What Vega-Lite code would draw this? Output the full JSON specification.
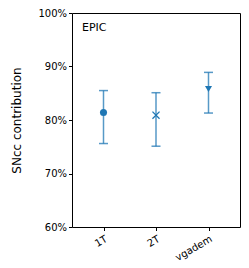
{
  "$schema": "https://vega.github.io/schema/vega-lite/v6.json",
  "autosize": {"type": "none"},
  "padding": {"left": 72, "top": 13, "right": 9, "bottom": 41},
  "width": 168,
  "height": 214,
  "config": {
    "view": {"stroke": "#000000", "strokeWidth": 1},
    "font": "DejaVu Sans"
  },
  "data": {
    "values": [
      {"model": "1T", "value": 0.814, "lo": 0.756, "hi": 0.855},
      {"model": "2T", "value": 0.809, "lo": 0.751, "hi": 0.851},
      {"model": "vgadem", "value": 0.858, "lo": 0.813, "hi": 0.889}
    ]
  },
  "encoding": {
    "x": {
      "field": "model", "type": "nominal", "sort": null,
      "scale": {"type": "point", "padding": 0.6},
      "axis": {"title": null, "labelAngle": -30, "labelAlign": "right", "labelBaseline": "top",
               "labelFontSize": 10, "labelColor": "#000", "tickColor": "#000", "domain": false,
               "tickSize": 3.5, "labelPadding": 3}
    }
  },
  "layer": [
    {
      "mark": {"type": "rule", "color": "#1f77b4", "opacity": 0.75, "strokeWidth": 1.5},
      "encoding": {
        "y": {"field": "lo", "type": "quantitative",
              "scale": {"domain": [0.6, 1.0], "nice": false, "zero": false},
              "axis": {"title": "SNcc contribution", "titleFontSize": 12, "titleFontWeight": "normal",
                       "titleColor": "#000", "titlePadding": 14, "format": ".0%", "values": [0.6, 0.7, 0.8, 0.9, 1.0],
                       "labelFontSize": 10, "labelColor": "#000", "tickColor": "#000", "domain": false,
                       "grid": false, "tickSize": 3.5, "labelPadding": 2}},
        "y2": {"field": "hi"}
      }
    },
    {
      "mark": {"type": "tick", "color": "#1f77b4", "opacity": 0.75, "thickness": 1.5, "size": 9},
      "encoding": {"y": {"field": "lo", "type": "quantitative"}}
    },
    {
      "mark": {"type": "tick", "color": "#1f77b4", "opacity": 0.75, "thickness": 1.5, "size": 9},
      "encoding": {"y": {"field": "hi", "type": "quantitative"}}
    },
    {
      "transform": [{"filter": "datum.model !== '2T'"}],
      "mark": {"type": "point", "filled": true, "color": "#1f77b4", "opacity": 1, "size": 50},
      "encoding": {
        "y": {"field": "value", "type": "quantitative"},
        "shape": {"field": "model", "type": "nominal", "legend": null,
                  "scale": {"domain": ["1T", "vgadem"], "range": ["circle", "triangle-down"]}}
      }
    },
    {
      "transform": [{"filter": "datum.model === '2T'"}],
      "mark": {"type": "point", "filled": false, "color": "#1f77b4", "opacity": 1, "size": 50,
               "shape": "M-1,-1L1,1M1,-1L-1,1", "strokeWidth": 1.3},
      "encoding": {"y": {"field": "value", "type": "quantitative"}}
    },
    {
      "data": {"values": [{"label": "EPIC"}]},
      "mark": {"type": "text", "align": "left", "baseline": "middle", "fontSize": 11, "color": "#000",
               "x": 10, "y": 15},
      "encoding": {"text": {"field": "label"}, "x": null}
    }
  ]
}
